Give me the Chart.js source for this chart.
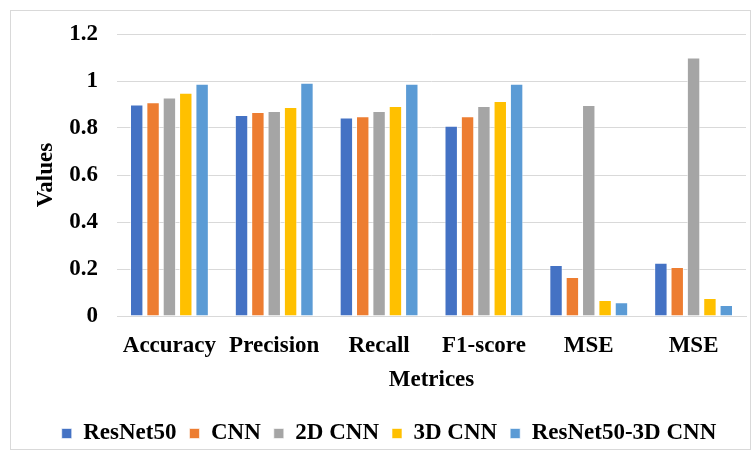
<!DOCTYPE html>
<html>
<head>
<meta charset="utf-8">
<script src="https://cdn.jsdelivr.net/npm/chart.js"></script>
<style>
  body { margin: 0; background: #fff; }
  #wrap { position: relative; width: 755px; height: 459px; }
</style>
</head>
<body>
<div id="wrap"><canvas id="myChart" width="755" height="459"></canvas></div>
<script>
// Chart data
const categories = ['Accuracy', 'Precision', 'Recall', 'F1-score', 'MSE', 'MSE'];
const resnet50 = [0.90, 0.855, 0.845, 0.81, 0.217, 0.227];
const cnn = [0.91, 0.868, 0.85, 0.85, 0.166, 0.209];
const cnn2d = [0.93, 0.872, 0.872, 0.894, 0.898, 1.10];
const cnn3d = [0.95, 0.889, 0.894, 0.915, 0.068, 0.077];
const hybrid = [0.988, 0.993, 0.988, 0.988, 0.058, 0.047];
const yTicks = [0, 0.2, 0.4, 0.6, 0.8, 1, 1.2];

const serif = '"Liberation Serif", "Times New Roman", serif';
const boldFont = { family: serif, size: 23, weight: 'bold' };

// light gray frame round the whole chart
const framePlugin = {
    id: 'frame',
    beforeDraw(chart) {
        const ctx = chart.ctx;
        ctx.save();
        ctx.fillStyle = '#fff';
        ctx.fillRect(0, 0, chart.width, chart.height);
        ctx.strokeStyle = '#d9d9d9';
        ctx.lineWidth = 1;
        ctx.strokeRect(10.5, 10.5, 740, 439);
        ctx.restore();
    }
};

function makeSet(label, data, color) {
    return {
        label: label,
        data: data,
        backgroundColor: color,
        borderColor: 'rgba(255,255,255,0.6)',
        borderWidth: 1,
        categoryPercentage: 0.78,
        barPercentage: 0.82
    };
}

const ctx = document.getElementById('myChart').getContext('2d');
new Chart(ctx, {
    type: 'bar',
    data: {
        labels: categories,
        datasets: [
            makeSet('ResNet50', resnet50, '#4472C4'),
            makeSet('CNN', cnn, '#ED7D31'),
            makeSet('2D CNN', cnn2d, '#A5A5A5'),
            makeSet('3D CNN', cnn3d, '#FFC000'),
            makeSet('ResNet50-3D CNN', hybrid, '#5B9BD5')
        ]
    },
    options: {
        responsive: false,
        animation: false,
        layout: { padding: { top: 34, right: 9, bottom: 4, left: 32 } },
        plugins: {
            tooltip: { enabled: false },
            legend: {
                position: 'bottom',
                labels: {
                    color: '#000',
                    font: boldFont,
                    boxWidth: 10,
                    boxHeight: 10,
                    padding: 13
                }
            }
        },
        scales: {
            x: {
                afterFit(scale) { scale.height = 93; },
                grid: { display: false, drawTicks: false },
                border: { color: '#d9d9d9', width: 1 },
                ticks: {
                    color: '#000',
                    padding: 16,
                    font: boldFont
                },
                title: {
                    display: true,
                    text: 'Metrices',
                    color: '#000',
                    padding: { top: 4, bottom: 15 },
                    font: boldFont
                }
            },
            y: {
                min: 0,
                max: 1.2,
                afterBuildTicks(axis) {
                    axis.ticks = yTicks.map(v => ({ value: v }));
                },
                afterFit(scale) { scale.width = 85; },
                grid: { color: '#d9d9d9', drawTicks: false },
                border: { display: false },
                ticks: {
                    color: '#000',
                    padding: 19,
                    font: boldFont,
                    callback: v => String(v)
                },
                title: {
                    display: true,
                    text: 'Values',
                    color: '#000',
                    padding: { top: 0, bottom: 4 },
                    font: boldFont
                }
            }
        }
    },
    plugins: [framePlugin]
});
</script>
</body>
</html>
